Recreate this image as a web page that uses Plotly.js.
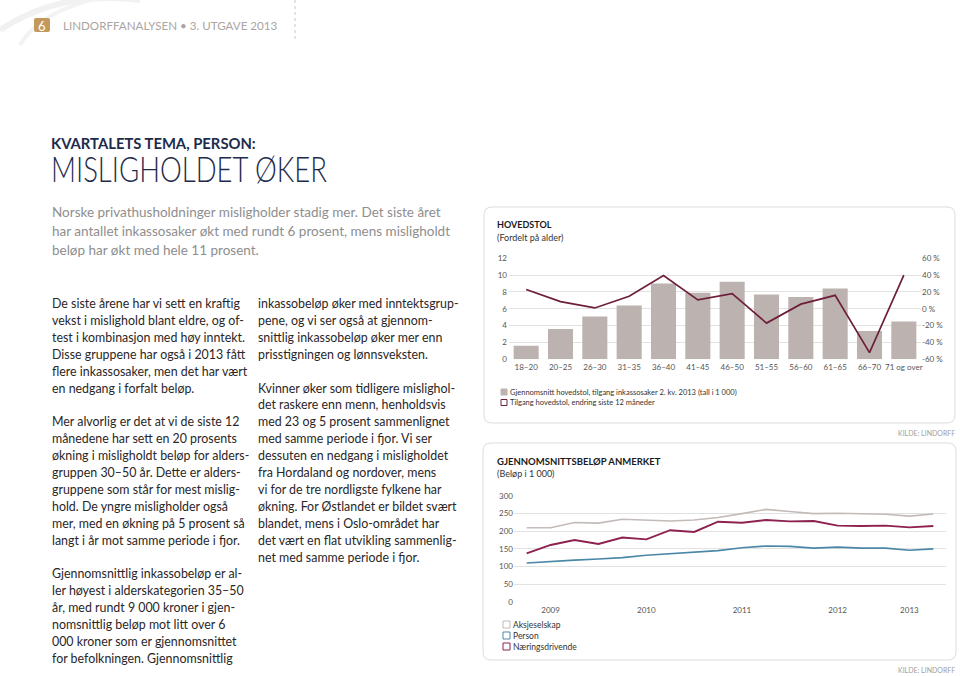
<!DOCTYPE html>
<html><head><meta charset="utf-8">
<script src="https://cdn.plot.ly/plotly-3.0.1.min.js"></script>
<style>html,body{margin:0;padding:0;background:#fff;}#page{width:960px;height:676px;}</style>
</head><body><div id="page"></div>
<script>
// ---- Chart 1: HOVEDSTOL (fordelt på alder)
const ageGroups = ['18–20','20–25','26–30','31–35','36–40','41–45','46–50','51–55','56–60','61–65','66–70','71 og over'];
const avgPrincipal = [1.6, 3.6, 5.1, 6.4, 9.0, 7.9, 9.2, 7.7, 7.4, 8.4, 3.35, 4.5];
const changePct = [23, 8.5, 1, 15, 39.5, 10.5, 18, -17, 5.5, 16, -52, 40];
const leftTicks = [0, 2, 4, 6, 8, 10, 12];
const rightTicks = [-60, -40, -20, 0, 20, 40, 60];
const rightTickText = ['-60 %', '-40 %', '-20 %', '0 %', '20 %', '40 %', '60 %'];
const legend1 = ['Gjennomsnitt hovedstol, tilgang inkassosaker 2. kv. 2013 (tall i 1 000)',
                 'Tilgang hovedstol, endring siste 12 måneder'];

// ---- Chart 2: GJENNOMSNITTSBELØP ANMERKET (kvartalsvis)
const periods = [0, 1, 2, 3, 4, 5, 6, 7, 8, 9, 10, 11, 12, 13, 14, 15, 16, 17];
const yearLabels = ['2009', '2010', '2011', '2012', '2013'];
const yearTickPos = [1, 5, 9, 13, 16];
const aksjeselskap = [210, 210, 225, 223, 234, 231, 229, 232, 239, 250, 262, 256, 250, 251, 249, 248, 243, 249];
const person       = [110, 115, 118, 121, 125, 132, 137, 141, 145, 153, 158, 157, 152, 155, 152, 152, 146, 150];
const naering      = [137, 161, 175, 164, 182, 177, 203, 198, 227, 224, 232, 228, 229, 216, 215, 216, 211, 215];
const seriesNames = ['Aksjeselskap', 'Person', 'Næringsdrivende'];

// ---- Text
const headerText = 'LINDORFFANALYSEN • 3. UTGAVE 2013';
const kicker = 'KVARTALETS TEMA, PERSON:';
const headline = 'MISLIGHOLDET ØKER';
const intro = ['Norske privathusholdninger misligholder stadig mer. Det siste året',
  'har antallet inkassosaker økt med rundt 6 prosent, mens misligholdt',
  'beløp har økt med hele 11 prosent.'];
const col1 = ['De siste årene har vi sett en kraftig','vekst i mislighold blant eldre, og of-',
  'test i kombinasjon med høy inntekt.','Disse gruppene har også i 2013 fått',
  'flere inkassosaker, men det har vært','en nedgang i forfalt beløp.','',
  'Mer alvorlig er det at vi de siste 12','månedene har sett en 20 prosents',
  'økning i misligholdt beløp for alders-','gruppen 30–50 år. Dette er alders-',
  'gruppene som står for mest mislig-','hold. De yngre misligholder også',
  'mer, med en økning på 5 prosent så','langt i år mot samme periode i fjor.','',
  'Gjennomsnittlig inkassobeløp er al-','ler høyest i alderskategorien 35–50',
  'år, med rundt 9 000 kroner i gjen-','nomsnittlig beløp mot litt over 6',
  '000 kroner som er gjennomsnittet','for befolkningen. Gjennomsnittlig'];
const col2 = ['inkassobeløp øker med inntektsgrup-','pene, og vi ser også at gjennom-',
  'snittlig inkassobeløp øker mer enn','prisstigningen og lønnsveksten.','',
  'Kvinner øker som tidligere mislighol-','det raskere enn menn, henholdsvis',
  'med 23 og 5 prosent sammenlignet','med samme periode i fjor. Vi ser',
  'dessuten en nedgang i misligholdet','fra Hordaland og nordover, mens',
  'vi for de tre nordligste fylkene har','økning. For Østlandet er bildet svært',
  'blandet, mens i Oslo-området har','det vært en flat utvikling sammenlig-',
  'net med samme periode i fjor.'];

// ---- helpers (pixel -> paper)
const W = 960, H = 676;
const X = px => px / W, Y = py => 1 - py / H;
const F = 'Lato, "Open Sans", sans-serif';
const BAR = '#bcb3b0', MAROON = '#6e1f3b', GREYL = '#c2bbb8', BLUE = '#4b87a7', WINE = '#8d2150';

function txt(text, x, y, size, color, o) {
  o = o || {};
  return Object.assign({text: text, xref: 'paper', yref: 'paper', x: X(x), y: Y(y),
    xanchor: 'left', yanchor: 'middle', align: 'left', showarrow: false,
    font: {family: F, size: size, color: color, weight: o.weight || 400}}, o.extra || {});
}
function rr(x0, y0, x1, y1, r) {
  const p = (x, y) => X(x).toFixed(5) + ',' + Y(y).toFixed(5);
  return 'M' + p(x0 + r, y0) + ' L' + p(x1 - r, y0) + ' Q' + p(x1, y0) + ' ' + p(x1, y0 + r) +
    ' L' + p(x1, y1 - r) + ' Q' + p(x1, y1) + ' ' + p(x1 - r, y1) +
    ' L' + p(x0 + r, y1) + ' Q' + p(x0, y1) + ' ' + p(x0, y1 - r) +
    ' L' + p(x0, y0 + r) + ' Q' + p(x0, y0) + ' ' + p(x0 + r, y0) + ' Z';
}
function box(x0, y0, x1, y1, fill, line) {
  return {type: 'rect', xref: 'paper', yref: 'paper', x0: X(x0), x1: X(x1), y0: Y(y1), y1: Y(y0),
    fillcolor: fill || 'rgba(0,0,0,0)', line: {color: line || 'rgba(0,0,0,0)', width: 1}};
}

const traces = [
  {type: 'bar', x: ageGroups, y: avgPrincipal, xaxis: 'x', yaxis: 'y', marker: {color: BAR},
   name: legend1[0], showlegend: false, hoverinfo: 'skip'},
  {type: 'scatter', mode: 'lines', x: ageGroups, y: changePct, xaxis: 'x', yaxis: 'y2',
   line: {color: MAROON, width: 1.7}, name: legend1[1], showlegend: false, hoverinfo: 'skip'},
  {type: 'scatter', mode: 'lines', x: periods, y: aksjeselskap, xaxis: 'x2', yaxis: 'y3',
   line: {color: GREYL, width: 1.6}, name: seriesNames[0], showlegend: false, hoverinfo: 'skip'},
  {type: 'scatter', mode: 'lines', x: periods, y: person, xaxis: 'x2', yaxis: 'y3',
   line: {color: BLUE, width: 1.6}, name: seriesNames[1], showlegend: false, hoverinfo: 'skip'},
  {type: 'scatter', mode: 'lines', x: periods, y: naering, xaxis: 'x2', yaxis: 'y3',
   line: {color: WINE, width: 1.9}, name: seriesNames[2], showlegend: false, hoverinfo: 'skip'}
];

const bodyAnn = [];
const LH = 16.9, BODY_FS = 12.4, BODY_C = '#2a2627';
col1.forEach((s, i) => { if (s) bodyAnn.push(txt(s, 50, 303.5 + i * LH, BODY_FS, BODY_C)); });
col2.forEach((s, i) => { if (s) bodyAnn.push(txt(s, 256, 303.5 + i * LH, BODY_FS, BODY_C)); });

const tickF = {family: F, size: 8, color: '#555'};
const layout = {
  width: W, height: H, margin: {l: 0, r: 0, t: 0, b: 0},
  paper_bgcolor: '#fff', plot_bgcolor: 'rgba(0,0,0,0)', showlegend: false, bargap: 0.27,
  xaxis: {domain: [X(509), X(921)], anchor: 'y', type: 'category', showgrid: false, showline: false,
    zeroline: false, ticks: '', tickfont: tickF, ticklabelstandoff: 2, fixedrange: true},
  yaxis: {domain: [Y(359.3), Y(258.3)], anchor: 'x', range: [0, 12], tickvals: leftTicks,
    showgrid: true, gridcolor: '#e2e2e2', gridwidth: 1, zeroline: false, showline: false, ticks: '',
    tickfont: tickF, ticklabelstandoff: 1, fixedrange: true},
  yaxis2: {overlaying: 'y', side: 'right', anchor: 'x', range: [-60, 60], tickvals: rightTicks,
    ticktext: rightTickText, showgrid: false, zeroline: false, showline: false, ticks: '',
    tickfont: tickF, fixedrange: true},
  xaxis2: {domain: [X(514), X(946)], anchor: 'y3', range: [-0.53, 17.53], tickvals: yearTickPos,
    ticktext: yearLabels, showgrid: false, zeroline: false, showline: false, ticks: '',
    tickfont: tickF, ticklabelstandoff: 2, fixedrange: true},
  yaxis3: {domain: [Y(601.7), Y(496)], anchor: 'x2', range: [0, 300], dtick: 50,
    showgrid: true, gridcolor: '#e2e2e2', zeroline: false, showline: false, ticks: '',
    tickfont: tickF, fixedrange: true},
  shapes: [
    {type: 'path', xref: 'paper', yref: 'paper', path: 'M' + X(0) + ',' + Y(30) + ' Q' + X(60) + ',' + Y(-10) + ' ' + X(140) + ',' + Y(0), line: {color: '#f1f1f1', width: 6}},
    {type: 'path', xref: 'paper', yref: 'paper', path: 'M' + X(20) + ',' + Y(45) + ' Q' + X(40) + ',' + Y(10) + ' ' + X(110) + ',' + Y(-5), line: {color: '#f3f3f3', width: 4}},
    {type: 'path', xref: 'paper', yref: 'paper', path: rr(34, 18, 50, 32, 2), fillcolor: '#c39a5c', line: {width: 0}},
    {type: 'line', xref: 'paper', yref: 'paper', x0: X(295), x1: X(295), y0: Y(0), y1: Y(40), line: {color: '#c8c8c8', width: 1, dash: 'dot'}},
    {type: 'path', xref: 'paper', yref: 'paper', path: rr(484, 207, 955, 423, 8), line: {color: '#dcdcdc', width: 1}},
    {type: 'path', xref: 'paper', yref: 'paper', path: rr(483, 443, 956, 660, 8), line: {color: '#dcdcdc', width: 1}},
    box(501, 389, 507, 395, BAR, BAR),
    box(501, 399.5, 507, 405.5, '#fff', MAROON),
    box(503, 621, 510, 628, '#fff', GREYL),
    box(503, 632, 510, 639, '#fff', BLUE),
    box(503, 643, 510, 650, '#fff', WINE)
  ],
  annotations: [
    txt('6', 42, 25.5, 13, '#fff', {extra: {xanchor: 'center'}}),
    txt(headerText, 61, 25.5, 11.6, '#aaa5a0'),
    txt('<b>' + kicker + '</b>', 49, 143, 14.8, '#1d2b4c', {weight: 700}),
    txt(headline, 49, 167.5, 35, '#1d2b4c', {weight: 300}),
    txt(intro[0], 50, 212, 13.5, '#8e8e8e'),
    txt(intro[1], 50, 231, 13.5, '#8e8e8e'),
    txt(intro[2], 50, 250, 13.5, '#8e8e8e'),
    txt('<b>HOVEDSTOL</b>', 495, 224, 9, '#1a1a1a'),
    txt('(Fordelt på alder)', 495, 237, 9, '#333'),
    txt(legend1[0], 508, 392, 7.5, '#333'),
    txt(legend1[1], 508, 402.5, 7.5, '#333'),
    txt('KILDE: LINDORFF', 957, 433, 7, '#a0a0a0', {extra: {xanchor: 'right'}}),
    txt('<b>GJENNOMSNITTSBELØP ANMERKET</b>', 495, 461, 9.5, '#1a1a1a'),
    txt('(Beløp i 1 000)', 495, 473.5, 9, '#333'),
    txt(seriesNames[0], 511, 624.7, 8.5, '#333'),
    txt(seriesNames[1], 511, 635.5, 8.5, '#333'),
    txt(seriesNames[2], 511, 646.5, 8.5, '#333'),
    txt('KILDE: LINDORFF', 957, 670, 7, '#a0a0a0', {extra: {xanchor: 'right'}})
  ].concat(bodyAnn)
};
Plotly.newPlot('page', traces, layout, {staticPlot: true, displayModeBar: false}).then(gd => {
  // narrow the light headline to the reference's set width
  gd.querySelectorAll('.annotation-text').forEach(t => {
    if (t.textContent === headline) {
      t.setAttribute('textLength', '276');
      t.setAttribute('lengthAdjust', 'spacingAndGlyphs');
    }
  });
});
</script></body></html>
